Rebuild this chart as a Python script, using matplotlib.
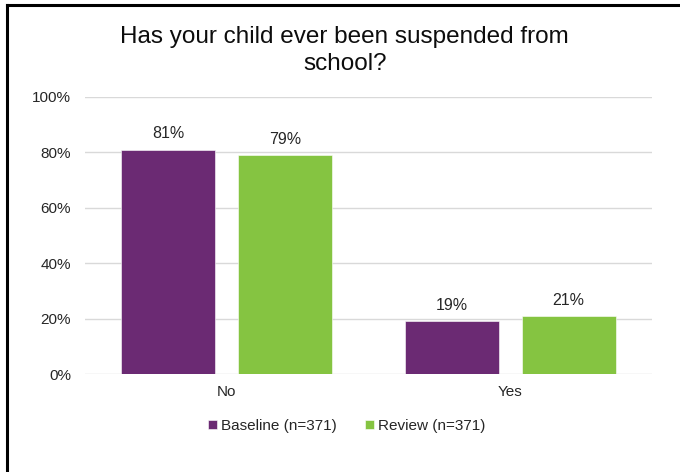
import matplotlib
matplotlib.use("Agg")
import matplotlib.pyplot as plt
import numpy as np
from matplotlib.lines import Line2D

plt.rcParams['font.family'] = ['Liberation Sans', 'DejaVu Sans']

categories = ["No", "Yes"]
series_names = ["Baseline (n=371)", "Review (n=371)"]
baseline = [81, 19]
review = [79, 21]
y_ticks = [0, 20, 40, 60, 80, 100]
title = "Has your child ever been suspended from\nschool?"

colors = ["#6B2A73", "#85C441"]

fig = plt.figure(figsize=(6.8, 4.72), dpi=100)
ax = fig.add_axes([0.125, 0.2076, 0.8338, 0.5869])

x = np.arange(len(categories))
width = 0.332
offset = 0.206
for vals, name, col, sign in [(baseline, series_names[0], colors[0], -1),
                              (review, series_names[1], colors[1], 1)]:
    bars = ax.bar(x + sign * offset, vals, width, color=col, label=name,
                  edgecolor="white", linewidth=0.4, zorder=3)
    for b, v in zip(bars, vals):
        ax.annotate(f"{v}%", (b.get_x() + b.get_width() / 2, v),
                    xytext=(0, 6), textcoords="offset points",
                    ha="center", va="bottom", fontsize=11.5, color="#262626")

ax.set_xlim(-0.5, 1.5)
ax.set_ylim(0, 100)
ax.set_yticks(y_ticks)
ax.set_yticklabels([f"{t}%" for t in y_ticks])
ax.set_xticks(x)
ax.set_xticklabels(categories)
ax.tick_params(axis="both", length=0, labelsize=11, labelcolor="#262626")
ax.tick_params(axis="y", pad=10)
ax.tick_params(axis="x", pad=8)
ax.yaxis.grid(True, color="#d9d9d9", linewidth=1, zorder=0)
ax.set_axisbelow(True)
for s in ax.spines.values():
    s.set_visible(False)

fig.text(0.507, 0.893, title, ha="center", va="center", fontsize=17.5,
         color="#0d0d0d", linespacing=1.3)

fig.legend(loc="center", bbox_to_anchor=(0.51, 0.0975), ncol=2, frameon=False,
           fontsize=11, handlelength=0.6, handleheight=0.6, handletextpad=0.3,
           columnspacing=1.8, labelcolor="#262626")

# frame edges (top and left)
fig.add_artist(Line2D([6.5 / 680, 1], [1 - 4.5 / 472, 1 - 4.5 / 472],
                      transform=fig.transFigure, color="black", linewidth=2.2))
fig.add_artist(Line2D([6.5 / 680, 6.5 / 680], [0, 1 - 4.5 / 472],
                      transform=fig.transFigure, color="black", linewidth=2.2))

fig.savefig("out.png", dpi=100, facecolor="white")
